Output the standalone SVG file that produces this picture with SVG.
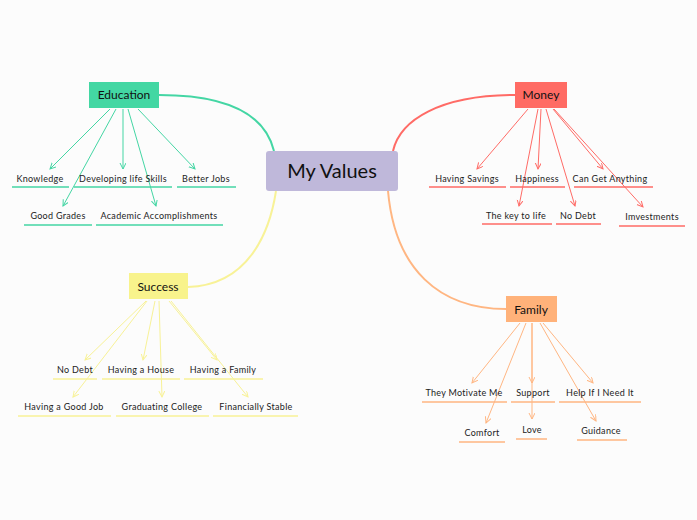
<svg xmlns="http://www.w3.org/2000/svg" width="697" height="520" viewBox="0 0 697 520">
<style>
.bg{fill:#fcfcfc}
.lbl{font-family:Lato,"Noto Sans","DejaVu Sans",sans-serif;font-size:9px;fill:#222;text-anchor:middle;letter-spacing:0.3px}
.ttl{font-family:Lato,"Noto Sans","DejaVu Sans",sans-serif;font-size:12px;fill:#111;text-anchor:middle}
.ctr{font-family:Lato,"Noto Sans","DejaVu Sans",sans-serif;font-size:20px;fill:#111;text-anchor:middle}
.g{stroke:#44d6a4}.r{stroke:#ff6b66}.y{stroke:#f8f297}.o{stroke:#ffb682}
.arr{fill:none;stroke-width:1}
.cur{fill:none;stroke-width:2}
.ul{stroke-width:1.5}
</style>
<defs>
<marker id="mg" markerWidth="8" markerHeight="8" refX="6" refY="3" orient="auto" markerUnits="userSpaceOnUse"><path d="M0,0 L6,3 L0,6" fill="none" stroke="#44d6a4" stroke-width="1"/></marker>
<marker id="mr" markerWidth="8" markerHeight="8" refX="6" refY="3" orient="auto" markerUnits="userSpaceOnUse"><path d="M0,0 L6,3 L0,6" fill="none" stroke="#ff6b66" stroke-width="1"/></marker>
<marker id="my" markerWidth="8" markerHeight="8" refX="6" refY="3" orient="auto" markerUnits="userSpaceOnUse"><path d="M0,0 L6,3 L0,6" fill="none" stroke="#f8f297" stroke-width="1"/></marker>
<marker id="mo" markerWidth="8" markerHeight="8" refX="6" refY="3" orient="auto" markerUnits="userSpaceOnUse"><path d="M0,0 L6,3 L0,6" fill="none" stroke="#ffb682" stroke-width="1"/></marker>
</defs>
<rect class="bg" x="0" y="0" width="697" height="520"/>
<g id="connectors">
<path class="cur g" d="M159,95 C235,95 266,118 274,151"/>
<path class="cur r" d="M515,95 C440,95 400,120 393,151"/>
<path class="cur y" d="M188,287 C250,285 270,230 276,191"/>
<path class="cur o" d="M506,309 C440,309 395,270 388,191"/>
<g class="arr g" marker-end="url(#mg)">
<line x1="110" y1="109" x2="50" y2="169"/>
<line x1="123" y1="109" x2="123" y2="169"/>
<line x1="138" y1="109" x2="195" y2="169"/>
<line x1="116" y1="109" x2="63" y2="206"/>
<line x1="128" y1="109" x2="156" y2="206"/>
</g>
<g class="arr r" marker-end="url(#mr)">
<line x1="528" y1="109" x2="477" y2="169"/>
<line x1="541" y1="109" x2="538" y2="169"/>
<line x1="553" y1="109" x2="603" y2="169"/>
<line x1="538" y1="109" x2="519" y2="206"/>
<line x1="546" y1="109" x2="575" y2="206"/>
<line x1="554" y1="109" x2="643" y2="207"/>
</g>
<g class="arr y" marker-end="url(#my)">
<line x1="146" y1="301" x2="85" y2="360"/>
<line x1="155" y1="301" x2="143" y2="360"/>
<line x1="169" y1="301" x2="217" y2="360"/>
<line x1="147" y1="301" x2="73" y2="397"/>
<line x1="159" y1="301" x2="162" y2="397"/>
<line x1="171" y1="301" x2="248" y2="397"/>
</g>
<g class="arr o" marker-end="url(#mo)">
<line x1="520" y1="323" x2="472" y2="383"/>
<line x1="532" y1="323" x2="532" y2="383"/>
<line x1="543" y1="323" x2="593" y2="383"/>
<line x1="526" y1="323" x2="486" y2="423"/>
<line x1="532" y1="323" x2="532" y2="419"/>
<line x1="540" y1="323" x2="596" y2="421"/>
</g>
</g>
<g id="center"><rect x="266" y="151" width="132" height="40" rx="3" fill="#bfb8da"/><text class="ctr" x="332" y="178">My Values</text></g>
<g id="education"><rect x="89" y="82" width="70" height="26" fill="#43d7a3"/><text class="ttl" x="124" y="99">Education</text></g>
<g id="money"><rect x="515" y="82" width="52" height="26" fill="#ff6b64"/><text class="ttl" x="541" y="99">Money</text></g>
<g id="success"><rect x="129" y="273" width="59" height="26" fill="#f8f38c"/><text class="ttl" x="158" y="291">Success</text></g>
<g id="family"><rect x="506" y="296" width="51" height="26" fill="#ffb27a"/><text class="ttl" x="531" y="314">Family</text></g>

<g id="knowledge"><text class="lbl" x="40" y="182">Knowledge</text><line class="ul g" x1="12" y1="187" x2="69" y2="187"/></g>
<g id="developing"><text class="lbl" x="123" y="182">Developing life Skills</text><line class="ul g" x1="74" y1="187" x2="172" y2="187"/></g>
<g id="betterjobs"><text class="lbl" x="206" y="182">Better Jobs</text><line class="ul g" x1="177" y1="187" x2="236" y2="187"/></g>
<g id="goodgrades"><text class="lbl" x="58" y="219">Good Grades</text><line class="ul g" x1="24" y1="225" x2="92" y2="225"/></g>
<g id="academic"><text class="lbl" x="159" y="219">Academic Accomplishments</text><line class="ul g" x1="96" y1="225" x2="223" y2="225"/></g>

<g id="savings"><text class="lbl" x="467" y="182">Having Savings</text><line class="ul r" x1="429" y1="187" x2="506" y2="187"/></g>
<g id="happiness"><text class="lbl" x="537" y="182">Happiness</text><line class="ul r" x1="510" y1="187" x2="565" y2="187"/></g>
<g id="cangetanything"><text class="lbl" x="610" y="182">Can Get Anything</text><line class="ul r" x1="574" y1="187" x2="653" y2="187"/></g>
<g id="keytolife"><text class="lbl" x="516" y="219">The key to life</text><line class="ul r" x1="482" y1="224" x2="552" y2="224"/></g>
<g id="nodebt-m"><text class="lbl" x="578" y="219">No Debt</text><line class="ul r" x1="556" y1="224" x2="601" y2="224"/></g>
<g id="investments"><text class="lbl" x="652" y="220">Imvestments</text><line class="ul r" x1="619" y1="226" x2="685" y2="226"/></g>

<g id="nodebt-s"><text class="lbl" x="75" y="373">No Debt</text><line class="ul y" x1="53" y1="379" x2="97" y2="379"/></g>
<g id="house"><text class="lbl" x="141" y="373">Having a House</text><line class="ul y" x1="102" y1="379" x2="180" y2="379"/></g>
<g id="hfamily"><text class="lbl" x="223" y="373">Having a Family</text><line class="ul y" x1="184" y1="379" x2="263" y2="379"/></g>
<g id="goodjob"><text class="lbl" x="64" y="410">Having a Good Job</text><line class="ul y" x1="18" y1="416" x2="111" y2="416"/></g>
<g id="college"><text class="lbl" x="162" y="410">Graduating College</text><line class="ul y" x1="116" y1="416" x2="209" y2="416"/></g>
<g id="stable"><text class="lbl" x="256" y="410">Financially Stable</text><line class="ul y" x1="213" y1="416" x2="298" y2="416"/></g>

<g id="motivate"><text class="lbl" x="464" y="396">They Motivate Me</text><line class="ul o" x1="422" y1="402" x2="507" y2="402"/></g>
<g id="support"><text class="lbl" x="533" y="396">Support</text><line class="ul o" x1="511" y1="402" x2="555" y2="402"/></g>
<g id="help"><text class="lbl" x="600" y="396">Help If I Need It</text><line class="ul o" x1="559" y1="402" x2="641" y2="402"/></g>
<g id="comfort"><text class="lbl" x="482" y="436">Comfort</text><line class="ul o" x1="459" y1="442" x2="505" y2="442"/></g>
<g id="love"><text class="lbl" x="532" y="433">Love</text><line class="ul o" x1="516" y1="439" x2="547" y2="439"/></g>
<g id="guidance"><text class="lbl" x="601" y="434">Guidance</text><line class="ul o" x1="577" y1="440" x2="627" y2="440"/></g>
</svg>
